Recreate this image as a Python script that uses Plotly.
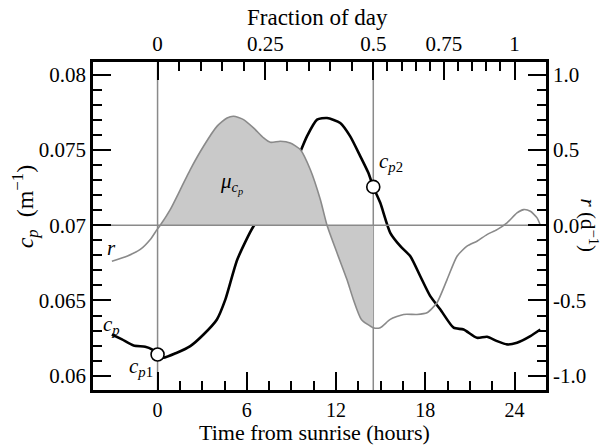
import plotly.graph_objects as go

FONT = "Liberation Serif"

# ---- data ----
# particle beam attenuation c_p (m^-1) vs time from sunrise (hours)
cp_hours = [-3.07, -2.39, -1.61, -0.83, -0.38, 0.0, 0.40, 1.30, 2.20, 3.09,
            3.99, 4.56, 5.36, 6.45, 7.57, 8.47, 9.37, 10.04, 10.72, 11.39,
            12.28, 12.95, 13.63, 14.16, 14.5, 14.97, 15.64, 16.32, 16.99, 17.66,
            18.33, 19.01, 19.90, 20.57, 21.47, 22.14, 22.82, 23.49, 24.16, 25.06,
            25.73]
cp_values = [0.06274, 0.06241, 0.06201, 0.06193, 0.06175, 0.06141, 0.06120, 0.06153, 0.06197, 0.06274,
             0.06374, 0.06507, 0.06772, 0.06993, 0.07126, 0.07259, 0.07436, 0.07591, 0.07702, 0.07713,
             0.07680, 0.07591, 0.07458, 0.07350, 0.07255, 0.07149, 0.06950, 0.06861, 0.06794, 0.06661,
             0.06529, 0.06440, 0.06319, 0.06307, 0.06252, 0.06259, 0.06230, 0.06208, 0.06219, 0.06263,
             0.06307]

# rate r (d^-1) vs time from sunrise (hours)
r_hours = [-3.07, -2.06, -1.16, -0.49, -0.04, 0.18, 0.85, 1.53, 2.20, 3.09,
           3.99, 4.67, 5.11, 5.78, 6.45, 7.13, 7.58, 8.25, 8.92, 9.59,
           10.27, 10.94, 11.39, 12.06, 12.73, 13.16, 13.70, 14.5, 14.97, 15.64,
           16.54, 17.44, 18.11, 18.78, 19.46, 20.13, 20.80, 21.47, 22.14, 22.82,
           23.49, 24.16, 24.61, 25.06, 25.51, 25.73]
r_values = [-0.239, -0.206, -0.161, -0.095, -0.029, 0.0, 0.104, 0.237, 0.370, 0.525,
            0.657, 0.713, 0.724, 0.702, 0.647, 0.580, 0.551, 0.558, 0.547, 0.503,
            0.369, 0.171, 0.0, -0.183, -0.361, -0.493, -0.626, -0.681, -0.681, -0.626,
            -0.593, -0.593, -0.582, -0.515, -0.361, -0.206, -0.139, -0.106, -0.062, -0.029,
            0.016, 0.082, 0.104, 0.093, 0.049, 0.0]

# sunrise / sunset (hours from sunrise) and the marked c_p points
SUNRISE_H = 0.0
SUNSET_H = 14.5
point_hours = [SUNRISE_H, SUNSET_H]
point_values = [0.06141, 0.07255]

# axis ticks
hour_ticks = [0, 6, 12, 18, 24]
hour_minor = [1.5, 3, 4.5, 7.5, 9, 10.5, 13.5, 15, 16.5, 19.5, 21, 22.5]
frac_ticks = [0, 0.25, 0.5, 0.75, 1]
frac_labels = ["0", "0.25", "0.5", "0.75", "1"]
frac_minor = [0.05, 0.1, 0.15, 0.2, 0.3, 0.35, 0.4, 0.45,
              0.55, 0.6, 0.65, 0.7, 0.8, 0.85, 0.9, 0.95]
cp_ticks = [0.06, 0.065, 0.07, 0.075, 0.08]
cp_labels = ["0.06", "0.065", "0.07", "0.075", "0.08"]
r_ticks = [-1.0, -0.5, 0.0, 0.5, 1.0]
r_labels = ["-1.0", "-0.5", "0.0", "0.5", "1.0"]

X_RANGE = [-4.34, 26.11]
CP_RANGE = [0.05905, 0.08085]
R_RANGE = [(CP_RANGE[0] - 0.07) * 100, (CP_RANGE[1] - 0.07) * 100]


def frac_to_hour(f):
    # day fraction 0..0.5 spans sunrise..sunset, 0.5..1 spans the night
    if f <= 0.5:
        return SUNRISE_H + f / 0.5 * (SUNSET_H - SUNRISE_H)
    return SUNSET_H + (f - 0.5) / 0.5 * (24 - SUNSET_H)


GRAY = "#8a8a8a"
FILL = "#c9c9c9"

fig = go.Figure()

# shaded area between r and zero, sunrise-crossing .. sunset
fill_h = [h for h in r_hours if r_hours[5] <= h <= SUNSET_H]
fill_r = [v for h, v in zip(r_hours, r_values) if r_hours[5] <= h <= SUNSET_H]
fig.add_trace(go.Scatter(x=fill_h, y=fill_r, yaxis="y2", mode="lines",
                         line=dict(width=0, shape="spline", smoothing=0.6),
                         fill="tozeroy", fillcolor=FILL, hoverinfo="skip"))

# reference lines: zero of r, sunrise, sunset
fig.add_trace(go.Scatter(x=X_RANGE, y=[0, 0], yaxis="y2", mode="lines",
                         line=dict(color=GRAY, width=1.5)))
for h in (SUNRISE_H, SUNSET_H):
    fig.add_trace(go.Scatter(x=[h, h], y=CP_RANGE, mode="lines",
                             line=dict(color=GRAY, width=1.5)))

# r curve
fig.add_trace(go.Scatter(x=r_hours, y=r_values, yaxis="y2", mode="lines",
                         line=dict(color=GRAY, width=1.6, shape="spline", smoothing=0.6)))

# c_p curve
fig.add_trace(go.Scatter(x=cp_hours, y=cp_values, mode="lines",
                         line=dict(color="black", width=2.6, shape="spline", smoothing=0.6)))

# marked points (placed on the top axis, which shares the same hour range)
fig.add_trace(go.Scatter(x=point_hours, y=point_values, xaxis="x2", mode="markers",
                         marker=dict(size=13, color="white",
                                     line=dict(color="black", width=1.6))))

tickfont = dict(family=FONT, size=21, color="black")
common = dict(ticks="inside", ticklen=18, tickwidth=2.4, tickcolor="black",
              showline=True, linewidth=2.6, linecolor="black",
              showgrid=False, zeroline=False, tickfont=tickfont)
minor = dict(ticks="inside", ticklen=9, tickwidth=1.5, tickcolor="black", showgrid=False)

fig.update_layout(
    width=602, height=446,
    margin=dict(l=93, r=56, t=62, b=56),
    paper_bgcolor="white", plot_bgcolor="white",
    showlegend=False,
    font=dict(family=FONT, color="black"),
    xaxis=dict(range=X_RANGE, tickmode="array", tickvals=hour_ticks,
               ticktext=[str(t) for t in hour_ticks],
               minor=dict(minor, tickmode="array", tickvals=hour_minor),
               **dict(common, tickfont=dict(tickfont, size=20))),
    xaxis2=dict(range=X_RANGE, overlaying="x", side="top", anchor="y",
                tickmode="array", tickvals=[frac_to_hour(f) for f in frac_ticks],
                ticktext=frac_labels,
                minor=dict(minor, tickmode="array", tickvals=[frac_to_hour(f) for f in frac_minor]),
                **common),
    yaxis=dict(range=CP_RANGE, tickmode="array", tickvals=cp_ticks, ticktext=cp_labels,
               minor=dict(minor, tickmode="array",
                          tickvals=[0.06 + 0.001 * i for i in range(1, 20) if i % 5]),
               **common),
    yaxis2=dict(range=R_RANGE, overlaying="y", side="right", anchor="x",
                tickmode="array", tickvals=r_ticks, ticktext=r_labels,
                minor=dict(minor, tickmode="array",
                           tickvals=[round(-1 + 0.1 * i, 2) for i in range(1, 20) if i % 5]),
                **common),
)

lab = dict(family=FONT, size=21, color="black")
ann = [
    dict(text="Time from sunrise (hours)", xref="paper", yref="paper", x=0.49, y=-0.13,
         font=dict(family=FONT, size=22), showarrow=False, xanchor="center", yanchor="middle"),
    dict(text="Fraction of day", xref="paper", yref="paper", x=0.495, y=1.135,
         font=dict(family=FONT, size=23), showarrow=False, xanchor="center", yanchor="middle"),
    dict(text="<i>c</i><sub><i>p</i></sub>  (m<sup>−1</sup>)", xref="paper", yref="paper",
         x=-0.15, y=0.56, textangle=-90, font=dict(family=FONT, size=24),
         showarrow=False, xanchor="center", yanchor="middle"),
    dict(text="<i>r</i> (d<sup>−1</sup>)", xref="paper", yref="paper",
         x=1.096, y=0.5, textangle=90, font=dict(family=FONT, size=21),
         showarrow=False, xanchor="center", yanchor="middle"),
    dict(text="<i>c</i><sub><i>p</i></sub>", x=-3.1, y=0.0634, font=lab, showarrow=False),
    dict(text="<i>c</i><sub><i>p</i>1</sub>", x=-1.1, y=0.0606, font=lab, showarrow=False),
    dict(text="<i>c</i><sub><i>p</i>2</sub>", x=15.7, y=0.0742, font=lab, showarrow=False),
    dict(text="<i>μ</i><sub><i>c</i><sub><i>p</i></sub></sub>", x=5.0, y=0.0728, font=lab,
         showarrow=False),
    dict(text="<i>r</i>", x=-3.1, y=0.0685, font=lab, showarrow=False),
]
fig.update_layout(annotations=ann)

fig.write_html("out.html")
